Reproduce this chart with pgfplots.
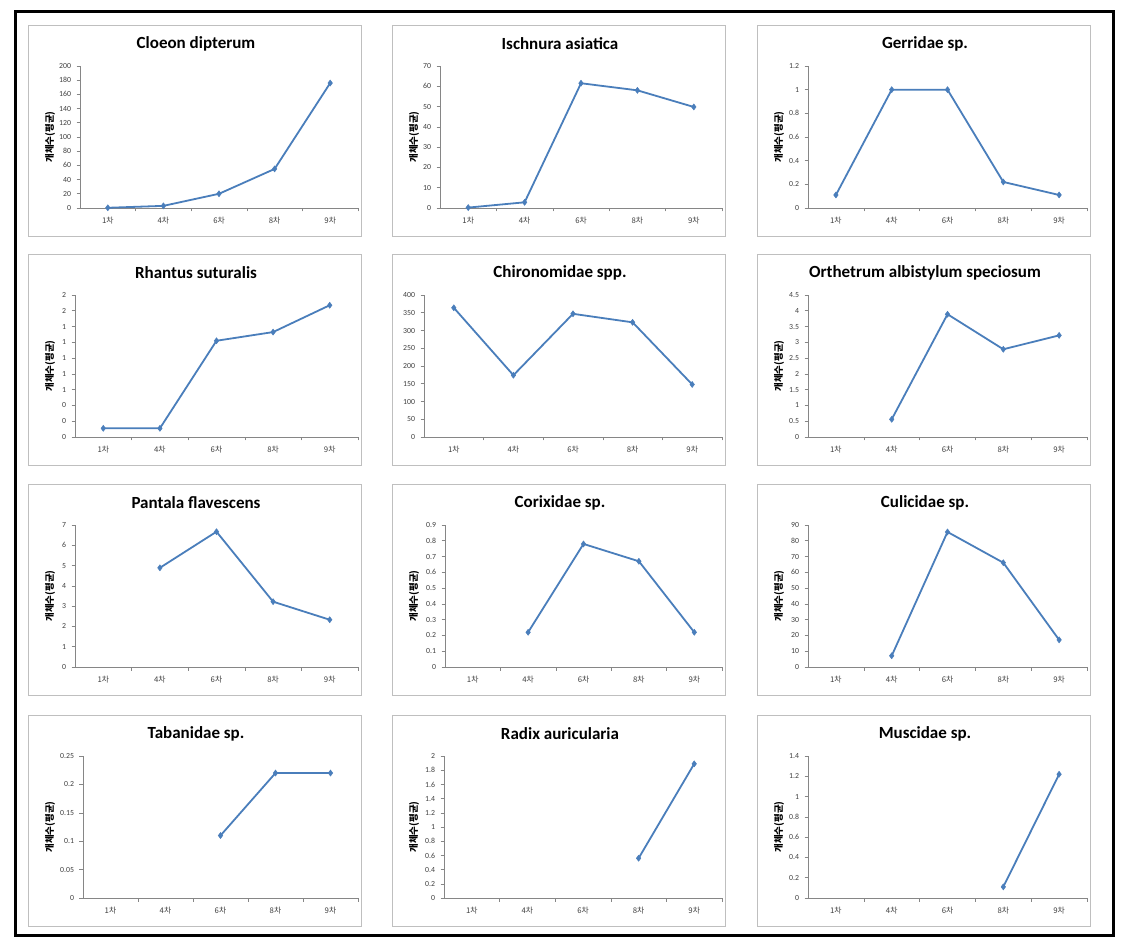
\documentclass[border=0pt]{standalone}
\usepackage{pgfplots}
\pgfplotsset{compat=1.18}
\usepackage{fontspec}
\setmainfont{Carlito}
\newfontfamily\kr{Noto Sans CJK KR}
\definecolor{xlblue}{HTML}{4A7EBB}
\definecolor{axgray}{HTML}{868686}
\definecolor{panelgray}{HTML}{BFBFBF}
\pgfplotsset{
  panel/.style={
    scale only axis, anchor=south west, height=142pt,
    xmin=0.5, xmax=5.5, ymin=0,
    axis lines*=left,
    axis line style={axgray, line width=0.7pt},
    tick style={axgray, line width=0.6pt},
    tick align=outside, major tick length=3.5pt, minor tick length=3.5pt,
    xtick={1,2,3,4,5},
    xticklabels={{1차},{4차},{6차},{8차},{9차}},
    major x tick style={draw=none},
    minor xtick={1.5,2.5,3.5,4.5,5.5},
    xticklabel style={font=\kr\fontsize{7.8}{9}\selectfont, text=black!75, yshift=-2pt},
    yticklabel style={font=\fontsize{7.8}{9}\selectfont, text=black!75, xshift=-2pt},
    clip=false,
  },
  ser/.style={xlblue, line width=1.8pt, mark=diamond*, mark size=3pt, mark options={xlblue, line width=0.5pt}},
}
\begin{document}
\begin{tikzpicture}[x=1pt,y=1pt]
\useasboundingbox (0,0) rectangle (1129,943);
\fill[white] (0,0) rectangle (1129,943);
% panel frames
\foreach \L in {28,392,757}{
  \foreach \T in {918,689,459,228}{
    \draw[panelgray, line width=0.8pt] (\L,\T) rectangle ++(333,-211);
  }
}
\draw[black, line width=3pt] (15,8) rectangle (1113,931);
% titles
\begin{scope}[every node/.style={font=\bfseries\fontsize{17}{20}\selectfont, anchor=center}]
\node at (196,899) {Cloeon dipterum};
\node at (560,899) {Ischnura asiatica};
\node at (925,899) {Gerridae sp.};
\node at (196,670) {Rhantus suturalis};
\node at (560,670) {Chironomidae spp.};
\node at (925,670) {Orthetrum albistylum speciosum};
\node at (196,440) {Pantala flavescens};
\node at (560,440) {Corixidae sp.};
\node at (925,440) {Culicidae sp.};
\node at (196,209) {Tabanidae sp.};
\node at (560,209) {Radix auricularia};
\node at (925,209) {Muscidae sp.};
\end{scope}
% y labels
\begin{scope}[every node/.style={font=\kr\bfseries\fontsize{9.5}{10}\selectfont, rotate=90, anchor=center}]
\node at (50,806) {개체수(평균)};
\node at (414,806) {개체수(평균)};
\node at (779,806) {개체수(평균)};
\node at (50,577) {개체수(평균)};
\node at (779,577) {개체수(평균)};
\node at (50,347) {개체수(평균)};
\node at (414,347) {개체수(평균)};
\node at (779,347) {개체수(평균)};
\node at (50,116) {개체수(평균)};
\node at (414,116) {개체수(평균)};
\node at (779,116) {개체수(평균)};
\end{scope}
% 1 Cloeon dipterum
\begin{axis}[panel, at={(80pt,735pt)}, width=278pt, ymax=200,
  ytick={0,20,...,200}, yticklabels={0,20,40,60,80,100,120,140,160,180,200}]
\addplot[ser] coordinates {(1,0.3)(2,3)(3,20)(4,55)(5,176)};
\end{axis}
% 2 Ischnura asiatica
\begin{axis}[panel, at={(440pt,735pt)}, width=282pt, ymax=70,
  ytick={0,10,...,70}, yticklabels={0,10,20,30,40,50,60,70}]
\addplot[ser] coordinates {(1,0.2)(2,2.8)(3,61.5)(4,58)(5,49.8)};
\end{axis}
% 3 Gerridae
\begin{axis}[panel, at={(808pt,735pt)}, width=279pt, ymax=1.2,
  ytick={0,0.2,0.4,0.6,0.8,1,1.2}, yticklabels={0,0.2,0.4,0.6,0.8,1,1.2}]
\addplot[ser] coordinates {(1,0.11)(2,1)(3,1)(4,0.22)(5,0.11)};
\end{axis}
% 4 Rhantus suturalis
\begin{axis}[panel, at={(75pt,506pt)}, width=283pt, ymax=1.8,
  ytick={0,0.2,0.4,0.6,0.8,1,1.2,1.4,1.6,1.8}, yticklabels={0,0,0,1,1,1,1,1,2,2}]
\addplot[ser] coordinates {(1,0.11)(2,0.11)(3,1.22)(4,1.33)(5,1.67)};
\end{axis}
% 5 Chironomidae
\begin{axis}[panel, at={(424pt,506pt)}, width=298pt, ymax=400,
  ytick={0,50,...,400}, yticklabels={0,50,100,150,200,250,300,350,400}]
\addplot[ser] coordinates {(1,364)(2,174)(3,347)(4,323)(5,148)};
\end{axis}
% 6 Orthetrum
\begin{axis}[panel, at={(808pt,506pt)}, width=279pt, ymax=4.5,
  ytick={0,0.5,1,1.5,2,2.5,3,3.5,4,4.5}, yticklabels={0,0.5,1,1.5,2,2.5,3,3.5,4,4.5}]
\addplot[ser] coordinates {(2,0.56)(3,3.89)(4,2.78)(5,3.22)};
\end{axis}
% 7 Pantala
\begin{axis}[panel, at={(75pt,276pt)}, width=283pt, ymax=7,
  ytick={0,1,...,7}, yticklabels={0,1,2,3,4,5,6,7}]
\addplot[ser] coordinates {(2,4.89)(3,6.67)(4,3.22)(5,2.33)};
\end{axis}
% 8 Corixidae
\begin{axis}[panel, at={(445pt,276pt)}, width=277pt, ymax=0.9,
  ytick={0,0.1,0.2,0.3,0.4,0.5,0.6,0.7,0.8,0.9}, yticklabels={0,0.1,0.2,0.3,0.4,0.5,0.6,0.7,0.8,0.9}]
\addplot[ser] coordinates {(2,0.22)(3,0.78)(4,0.67)(5,0.22)};
\end{axis}
% 9 Culicidae
\begin{axis}[panel, at={(808pt,276pt)}, width=279pt, ymax=90,
  ytick={0,10,...,90}, yticklabels={0,10,20,30,40,50,60,70,80,90}]
\addplot[ser] coordinates {(2,7.1)(3,85.6)(4,66.1)(5,17.2)};
\end{axis}
% 10 Tabanidae
\begin{axis}[panel, at={(83pt,45pt)}, width=275pt, ymax=0.25,
  ytick={0,0.05,0.1,0.15,0.2,0.25}, yticklabels={0,0.05,0.1,0.15,0.2,0.25}]
\addplot[ser] coordinates {(3,0.11)(4,0.22)(5,0.22)};
\end{axis}
% 11 Radix
\begin{axis}[panel, at={(444pt,45pt)}, width=278pt, ymax=2,
  ytick={0,0.2,0.4,0.6,0.8,1,1.2,1.4,1.6,1.8,2}, yticklabels={0,0.2,0.4,0.6,0.8,1,1.2,1.4,1.6,1.8,2}]
\addplot[ser] coordinates {(4,0.56)(5,1.89)};
\end{axis}
% 12 Muscidae
\begin{axis}[panel, at={(808pt,45pt)}, width=279pt, ymax=1.4,
  ytick={0,0.2,0.4,0.6,0.8,1,1.2,1.4}, yticklabels={0,0.2,0.4,0.6,0.8,1,1.2,1.4}]
\addplot[ser] coordinates {(4,0.11)(5,1.22)};
\end{axis}
\end{tikzpicture}
\end{document}
